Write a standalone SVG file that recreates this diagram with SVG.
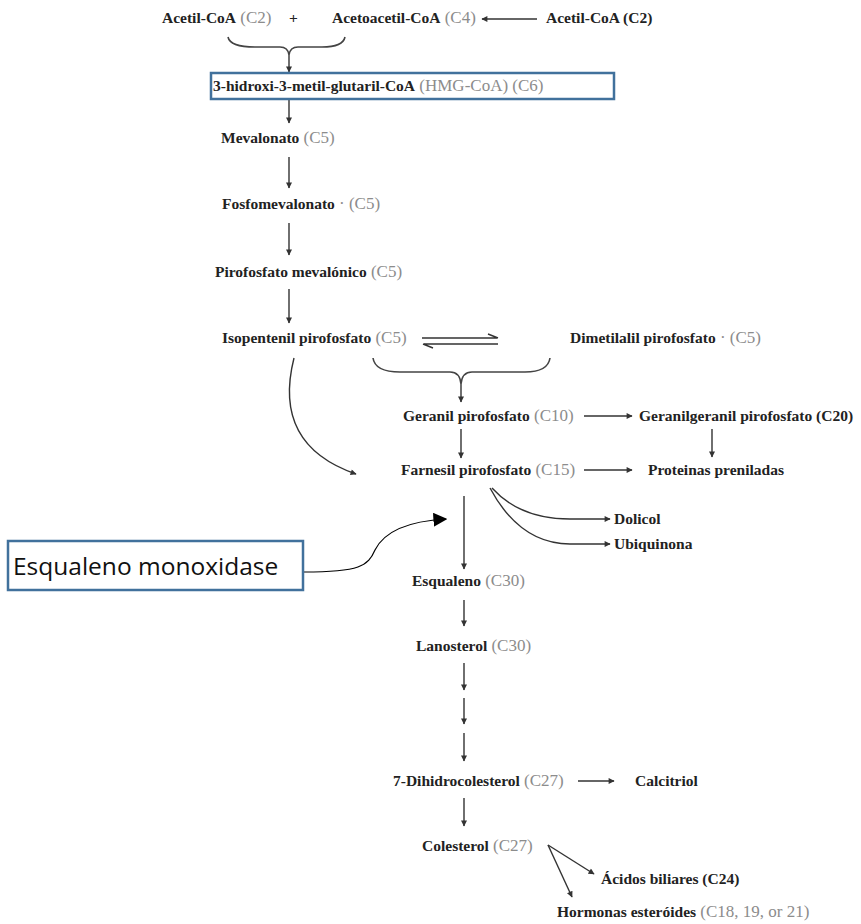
<svg xmlns="http://www.w3.org/2000/svg" width="861" height="924" viewBox="0 0 861 924">
<defs>
<style>
text{font-family:"Liberation Serif","Times New Roman",serif}
.n{font-weight:bold;font-size:15.5px;fill:#222}
.c{font-weight:normal;font-size:17px;fill:#8c8c8c}
.ln{fill:none;stroke:#333;stroke-width:1.4}
.br{fill:none;stroke:#444;stroke-width:1.6}
.box{fill:#fff;stroke:#41719c;stroke-width:2.5}
</style>
<marker id="ah" viewBox="0 0 10 10" refX="9" refY="5" markerWidth="8" markerHeight="6" orient="auto" markerUnits="userSpaceOnUse">
<path d="M0,0 L10,5 L0,10 z" fill="#333"/>
</marker>
<marker id="ahb" viewBox="0 0 10 10" refX="9" refY="5" markerWidth="14" markerHeight="14" orient="auto" markerUnits="userSpaceOnUse">
<path d="M0,0 L10,5 L0,10 z" fill="#000"/>
</marker>
</defs>
<rect width="861" height="924" fill="#fff"/>

<g id="connectors">
<path class="ln" d="M537,19 L482,19" marker-end="url(#ah)"/>
<path class="br" d="M228,37 Q230,47 255,47 L280,47 Q288,47 289,55 Q290,47 298,47 L322,47 Q343,47 345,37"/>
<path class="ln" d="M289,55 L289,72" marker-end="url(#ah)"/>
<path class="ln" d="M289,100 L289,123" marker-end="url(#ah)"/>
<path class="ln" d="M289,157 L289,188" marker-end="url(#ah)"/>
<path class="ln" d="M289,223 L289,255" marker-end="url(#ah)"/>
<path class="ln" d="M289,289 L289,323" marker-end="url(#ah)"/>
<path class="ln" d="M422,338 L497,338 M488,334 L498,338"/>
<path class="ln" d="M424,344 L498,344 M423,344 L433,348"/>
<path class="br" d="M373,358 Q375,372 400,372 L450,372 Q460,372 461,384 Q462,372 472,372 L525,372 Q548,372 550,358"/>
<path class="ln" d="M461,384 L461,402" marker-end="url(#ah)"/>
<path class="ln" d="M294,358 Q272,445 356,474" marker-end="url(#ah)"/>
<path class="ln" d="M584,416 L632,416" marker-end="url(#ah)"/>
<path class="ln" d="M712,429 L712,457" marker-end="url(#ah)"/>
<path class="ln" d="M461,429 L461,458" marker-end="url(#ah)"/>
<path class="ln" d="M584,470 L632,470" marker-end="url(#ah)"/>
<path class="ln" d="M492,488 Q520,519 570,519 L610,519" marker-end="url(#ah)" stroke-width="2"/>
<path class="ln" d="M490,488 Q520,544 570,544 L610,544" marker-end="url(#ah)" stroke-width="2"/>
<path class="ln" d="M464,496 L464,569" marker-end="url(#ah)"/>
<path class="ln" d="M464,600 L464,626" marker-end="url(#ah)"/>
<path class="ln" d="M464,663 L464,690" marker-end="url(#ah)"/>
<path class="ln" d="M464,698 L464,724" marker-end="url(#ah)"/>
<path class="ln" d="M464,733 L464,761" marker-end="url(#ah)"/>
<path class="ln" d="M578,781 L614,781" marker-end="url(#ah)"/>
<path class="ln" d="M464,798 L464,826" marker-end="url(#ah)"/>
<path class="ln" d="M548,845 L594,874" marker-end="url(#ah)" stroke-width="1.8"/>
<path class="ln" d="M548,845 L572,897" marker-end="url(#ah)" stroke-width="1.8"/>
<path fill="none" stroke="#000" stroke-width="1.2" d="M304,572 C360,572 368,566 375,550 C385,530 410,521 446,519" marker-end="url(#ahb)"/>
</g>

<g id="acetil1"><text x="162" y="23"><tspan class="n">Acetil-CoA</tspan><tspan class="c"> (C2)</tspan></text></g>
<g id="plus"><text x="289" y="23" class="n">+</text></g>
<g id="acetoacetil"><text x="332" y="23"><tspan class="n">Acetoacetil-CoA</tspan><tspan class="c"> (C4)</tspan></text></g>
<g id="acetil2"><text x="546" y="23" class="n">Acetil-CoA (C2)</text></g>

<g id="hmg">
<rect class="box" x="211" y="73" width="403" height="26"/>
<text x="213" y="91"><tspan class="n">3-hidroxi-3-metil-glutaril-CoA</tspan><tspan class="c"> (HMG-CoA) (C6)</tspan></text>
</g>
<g id="mevalonato"><text x="221" y="143"><tspan class="n">Mevalonato</tspan><tspan class="c">  (C5)</tspan></text></g>
<g id="fosfomevalonato"><text x="222" y="209"><tspan class="n">Fosfomevalonato</tspan><tspan class="c"> · (C5)</tspan></text></g>
<g id="pirofosfato"><text x="215" y="277"><tspan class="n">Pirofosfato mevalónico</tspan><tspan class="c">  (C5)</tspan></text></g>
<g id="isopentenil"><text x="222" y="343"><tspan class="n">Isopentenil pirofosfato</tspan><tspan class="c">  (C5)</tspan></text></g>
<g id="dimetilalil"><text x="570" y="343"><tspan class="n">Dimetilalil pirofosfato</tspan><tspan class="c"> · (C5)</tspan></text></g>
<g id="geranil"><text x="403" y="421"><tspan class="n">Geranil pirofosfato</tspan><tspan class="c">  (C10)</tspan></text></g>
<g id="geranilgeranil"><text x="639" y="421" class="n">Geranilgeranil pirofosfato (C20)</text></g>
<g id="farnesil"><text x="401" y="475"><tspan class="n">Farnesil pirofosfato</tspan><tspan class="c"> (C15)</tspan></text></g>
<g id="proteinas"><text x="648" y="475" class="n">Proteinas preniladas</text></g>
<g id="dolicol"><text x="614" y="524" class="n">Dolicol</text></g>
<g id="ubiquinona"><text x="614" y="549" class="n">Ubiquinona</text></g>
<g id="enzima">
<rect class="box" x="8" y="541" width="295" height="49"/>
<text x="13" y="575" style="font-family:'Open Sans','Liberation Sans',sans-serif;font-size:24.5px;fill:#111">Esqualeno monoxidase</text>
</g>
<g id="esqualeno"><text x="412" y="586"><tspan class="n">Esqualeno</tspan><tspan class="c"> (C30)</tspan></text></g>
<g id="lanosterol"><text x="416" y="651"><tspan class="n">Lanosterol</tspan><tspan class="c">  (C30)</tspan></text></g>
<g id="dihidrocolesterol"><text x="393" y="786"><tspan class="n">7-Dihidrocolesterol</tspan><tspan class="c"> (C27)</tspan></text></g>
<g id="calcitriol"><text x="635" y="786" class="n">Calcitriol</text></g>
<g id="colesterol"><text x="422" y="851"><tspan class="n">Colesterol</tspan><tspan class="c"> (C27)</tspan></text></g>
<g id="acidos"><text x="601" y="884" class="n">Ácidos biliares (C24)</text></g>
<g id="hormonas"><text x="557" y="917"><tspan class="n">Hormonas esteróides</tspan><tspan class="c">  (C18, 19, or 21)</tspan></text></g>
</svg>
